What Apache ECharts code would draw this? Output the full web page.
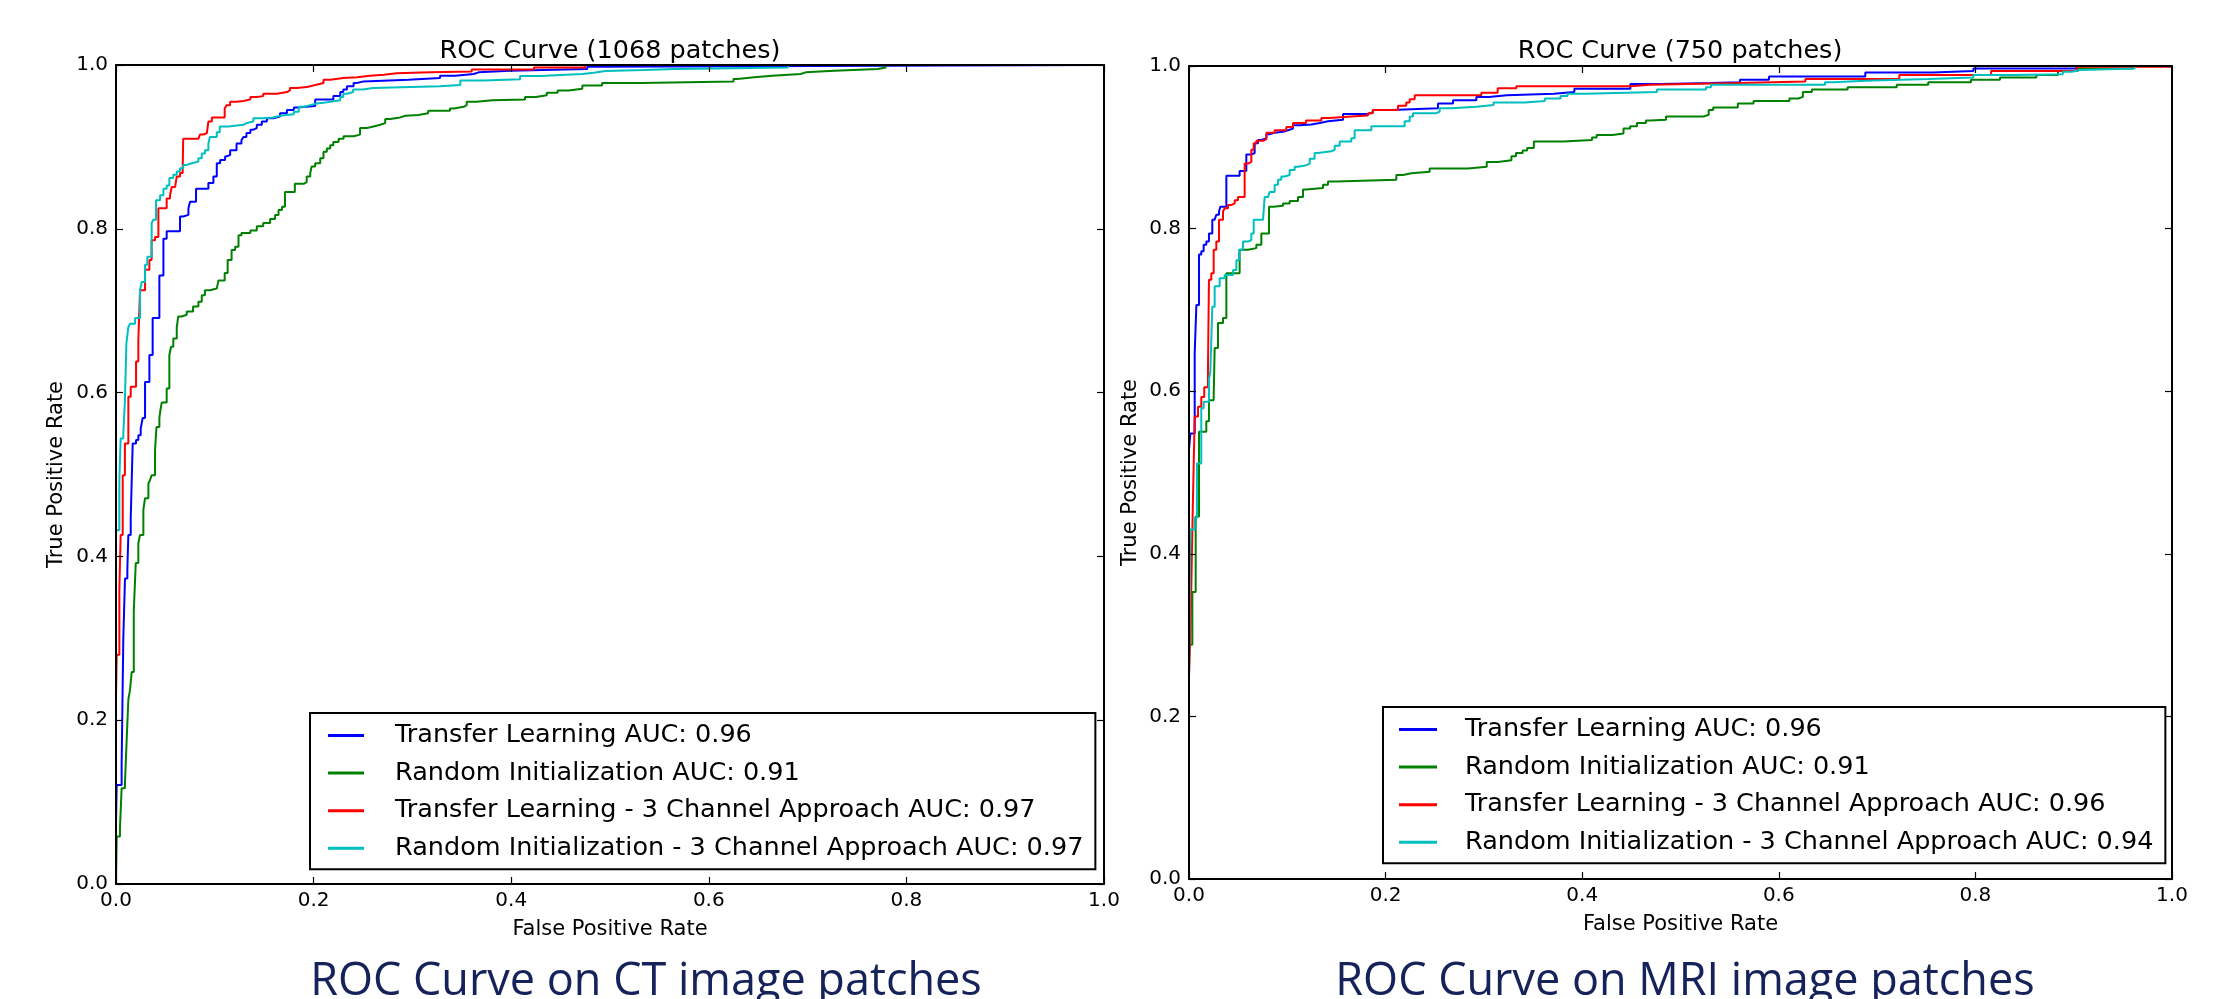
<!DOCTYPE html>
<html lang="en">
<head>
<meta charset="UTF-8">
<title>ROC Curve on CT / MRI image patches</title>
<script src="https://cdn.jsdelivr.net/npm/echarts@6/dist/echarts.min.js"></script>
<style>
html, body { margin: 0; padding: 0; background: #fff; }
#chart { width: 2218px; height: 999px; }
</style>
</head>
<body>
<div id="chart"></div>
<script>
// ROC points: [false positive rate, true positive rate]
var ctTransfer = [[0,0],[0,0.074],[0.0007,0.121],[0.0057,0.145],[0.0074,0.300],[0.0091,0.373],[0.0115,0.385],[0.0125,0.426],[0.0149,0.446],[0.0169,0.538],[0.0203,0.542],[0.0226,0.548],[0.025,0.556],[0.027,0.569],[0.0294,0.613],[0.0338,0.646],[0.0371,0.691],[0.0439,0.743],[0.048,0.788],[0.0513,0.797],[0.0648,0.815],[0.068,0.817],[0.0733,0.825],[0.075,0.833],[0.081,0.849],[0.0935,0.856],[0.0986,0.864],[0.102,0.880],[0.1054,0.884],[0.1104,0.888],[0.112,0.890],[0.1155,0.896],[0.122,0.904],[0.127,0.908],[0.129,0.912],[0.132,0.917],[0.136,0.921],[0.139,0.923],[0.1425,0.927],[0.1476,0.931],[0.1527,0.935],[0.159,0.937],[0.166,0.941],[0.173,0.945],[0.18,0.948],[0.183,0.950],[0.2016,0.958],[0.220,0.962],[0.227,0.967],[0.230,0.970],[0.2337,0.974],[0.2405,0.978],[0.2438,0.980],[0.2506,0.982],[0.296,0.984],[0.328,0.987],[0.3435,0.989],[0.362,0.991],[0.367,0.993],[0.399,0.995],[0.477,0.998],[0.487,1],[1,1]];
var ctRandom = [[0,0],[0.0007,0.058],[0.004,0.068],[0.0057,0.117],[0.009,0.121],[0.0108,0.176],[0.0125,0.225],[0.0142,0.237],[0.0159,0.259],[0.018,0.333],[0.020,0.392],[0.0226,0.416],[0.0243,0.426],[0.0277,0.457],[0.0294,0.471],[0.0328,0.489],[0.0344,0.493],[0.036,0.499],[0.0395,0.530],[0.041,0.558],[0.0439,0.569],[0.045,0.579],[0.0463,0.588],[0.0513,0.605],[0.054,0.646],[0.0557,0.656],[0.058,0.666],[0.0615,0.680],[0.063,0.693],[0.0665,0.695],[0.0716,0.699],[0.078,0.705],[0.0834,0.711],[0.0868,0.719],[0.090,0.725],[0.095,0.727],[0.102,0.729],[0.1037,0.737],[0.110,0.746],[0.113,0.762],[0.117,0.774],[0.1206,0.778],[0.124,0.792],[0.127,0.795],[0.136,0.798],[0.1425,0.803],[0.149,0.807],[0.156,0.812],[0.161,0.817],[0.1645,0.823],[0.168,0.827],[0.171,0.845],[0.181,0.855],[0.190,0.857],[0.193,0.864],[0.1966,0.868],[0.198,0.876],[0.2016,0.880],[0.2067,0.886],[0.210,0.894],[0.2134,0.898],[0.2168,0.902],[0.220,0.906],[0.2253,0.910],[0.2303,0.913],[0.2405,0.915],[0.247,0.923],[0.254,0.925],[0.2607,0.927],[0.2675,0.929],[0.2725,0.934],[0.2776,0.936],[0.2877,0.938],[0.293,0.939],[0.306,0.941],[0.316,0.944],[0.338,0.947],[0.342,0.949],[0.352,0.951],[0.355,0.955],[0.365,0.957],[0.381,0.958],[0.414,0.961],[0.425,0.963],[0.436,0.966],[0.447,0.969],[0.458,0.971],[0.472,0.975],[0.492,0.978],[0.531,0.980],[0.625,0.983],[0.629,0.985],[0.646,0.987],[0.664,0.989],[0.693,0.991],[0.698,0.993],[0.727,0.995],[0.771,0.997],[0.779,1],[1,1]];
var ctTransfer3 = [[0,0],[0,0.229],[0.0007,0.280],[0.0034,0.359],[0.0047,0.426],[0.0068,0.499],[0.009,0.538],[0.0125,0.595],[0.0149,0.607],[0.0203,0.638],[0.0226,0.664],[0.0243,0.725],[0.0294,0.750],[0.0338,0.762],[0.036,0.786],[0.0395,0.790],[0.0429,0.825],[0.0513,0.837],[0.0547,0.841],[0.0564,0.851],[0.0598,0.853],[0.0615,0.864],[0.0648,0.868],[0.0675,0.872],[0.068,0.910],[0.0834,0.912],[0.085,0.915],[0.0885,0.917],[0.092,0.919],[0.0935,0.931],[0.097,0.936],[0.110,0.947],[0.112,0.951],[0.1155,0.955],[0.122,0.956],[0.129,0.958],[0.136,0.961],[0.1425,0.962],[0.149,0.965],[0.163,0.967],[0.173,0.969],[0.176,0.972],[0.183,0.973],[0.193,0.974],[0.1966,0.976],[0.203,0.978],[0.210,0.982],[0.217,0.984],[0.230,0.985],[0.244,0.987],[0.257,0.988],[0.271,0.990],[0.284,0.991],[0.318,0.992],[0.360,0.9945],[0.423,0.997],[0.475,1],[1,1]];
var ctRandom3 = [[0,0],[0,0.432],[0.0034,0.493],[0.0047,0.544],[0.0074,0.550],[0.009,0.589],[0.0105,0.660],[0.0125,0.680],[0.0142,0.684],[0.0193,0.691],[0.0243,0.725],[0.026,0.735],[0.0294,0.756],[0.0317,0.766],[0.0361,0.807],[0.0378,0.811],[0.0405,0.835],[0.0446,0.841],[0.048,0.849],[0.0513,0.853],[0.054,0.862],[0.058,0.866],[0.0615,0.870],[0.0648,0.874],[0.068,0.878],[0.0716,0.880],[0.0767,0.882],[0.0834,0.886],[0.0868,0.892],[0.090,0.896],[0.0935,0.904],[0.095,0.912],[0.102,0.918],[0.105,0.925],[0.114,0.926],[0.122,0.927],[0.129,0.929],[0.132,0.931],[0.139,0.935],[0.149,0.936],[0.159,0.937],[0.163,0.938],[0.166,0.940],[0.180,0.943],[0.185,0.949],[0.190,0.951],[0.1966,0.953],[0.203,0.954],[0.210,0.955],[0.217,0.957],[0.227,0.961],[0.230,0.965],[0.234,0.967],[0.240,0.970],[0.250,0.972],[0.260,0.974],[0.3276,0.9756],[0.3485,0.981],[0.372,0.9825],[0.409,0.9866],[0.4296,0.9878],[0.450,0.989],[0.472,0.9906],[0.4836,0.9927],[0.4954,0.9939],[0.534,0.9951],[0.566,0.997],[0.680,1],[1,1]];

var mriTransfer = [[0,0],[0,0.528],[0.0014,0.548],[0.0058,0.647],[0.0075,0.706],[0.0102,0.768],[0.0125,0.772],[0.0149,0.780],[0.0176,0.784],[0.0203,0.794],[0.0237,0.811],[0.0261,0.813],[0.0278,0.817],[0.0305,0.821],[0.0319,0.827],[0.038,0.865],[0.0515,0.871],[0.0583,0.891],[0.0634,0.893],[0.0668,0.905],[0.0702,0.909],[0.0736,0.911],[0.0787,0.916],[0.082,0.918],[0.0871,0.919],[0.0956,0.921],[0.1007,0.923],[0.1058,0.927],[0.1126,0.928],[0.1244,0.930],[0.133,0.932],[0.1414,0.934],[0.1567,0.941],[0.182,0.943],[0.187,0.946],[0.206,0.948],[0.2533,0.954],[0.2686,0.958],[0.2923,0.962],[0.305,0.964],[0.3234,0.966],[0.3713,0.968],[0.392,0.972],[0.449,0.978],[0.481,0.979],[0.531,0.980],[0.5605,0.983],[0.590,0.987],[0.688,0.992],[0.757,0.994],[0.798,0.997],[0.903,1],[1,1]];
var mriRandom = [[0,0],[0,0.288],[0.0034,0.353],[0.0068,0.446],[0.0102,0.550],[0.0176,0.563],[0.0203,0.589],[0.0251,0.593],[0.0261,0.653],[0.0295,0.684],[0.0346,0.690],[0.038,0.745],[0.0515,0.774],[0.060,0.776],[0.0685,0.780],[0.0736,0.794],[0.0814,0.827],[0.0855,0.828],[0.0956,0.831],[0.1024,0.834],[0.1109,0.839],[0.116,0.848],[0.1194,0.850],[0.1363,0.854],[0.1414,0.858],[0.1499,0.860],[0.2109,0.866],[0.2177,0.868],[0.2262,0.870],[0.2448,0.874],[0.2838,0.876],[0.3029,0.882],[0.3142,0.884],[0.328,0.889],[0.3326,0.893],[0.3394,0.896],[0.344,0.899],[0.3508,0.907],[0.3805,0.909],[0.410,0.912],[0.4147,0.915],[0.4306,0.917],[0.442,0.923],[0.4488,0.926],[0.4557,0.930],[0.4648,0.933],[0.4694,0.934],[0.4853,0.938],[0.524,0.940],[0.5287,0.946],[0.5333,0.949],[0.5583,0.954],[0.5743,0.957],[0.6108,0.960],[0.620,0.962],[0.6245,0.968],[0.6336,0.971],[0.670,0.974],[0.720,0.977],[0.752,0.980],[0.7955,0.983],[0.825,0.986],[0.862,0.989],[0.884,0.994],[0.904,0.997],[0.960,1],[1,1]];
var mriTransfer3 = [[0,0],[0,0.249],[0.0014,0.300],[0.0025,0.370],[0.0034,0.429],[0.0046,0.500],[0.0058,0.569],[0.0092,0.581],[0.0125,0.593],[0.0155,0.605],[0.0193,0.628],[0.0203,0.737],[0.0227,0.745],[0.0251,0.774],[0.0278,0.784],[0.0305,0.811],[0.0346,0.821],[0.0363,0.825],[0.0397,0.829],[0.0431,0.831],[0.0465,0.835],[0.0498,0.839],[0.0566,0.880],[0.060,0.882],[0.0634,0.897],[0.0658,0.905],[0.0685,0.908],[0.0753,0.910],[0.0787,0.918],[0.0871,0.921],[0.099,0.925],[0.1058,0.930],[0.119,0.933],[0.1346,0.936],[0.143,0.938],[0.165,0.939],[0.182,0.942],[0.187,0.946],[0.2126,0.951],[0.221,0.955],[0.2245,0.959],[0.2296,0.964],[0.2974,0.967],[0.314,0.9725],[0.333,0.975],[0.449,0.977],[0.469,0.979],[0.558,0.981],[0.627,0.984],[0.7226,0.989],[0.816,0.994],[0.903,0.999],[1,1]];
var mriRandom3 = [[0,0],[0,0.249],[0.0014,0.430],[0.0058,0.444],[0.0081,0.511],[0.0125,0.579],[0.0149,0.587],[0.0203,0.615],[0.0217,0.624],[0.0237,0.704],[0.0261,0.729],[0.0312,0.739],[0.0363,0.743],[0.0448,0.749],[0.0482,0.761],[0.0509,0.774],[0.0549,0.784],[0.060,0.786],[0.0634,0.794],[0.0658,0.811],[0.0753,0.813],[0.077,0.839],[0.0804,0.841],[0.082,0.845],[0.0871,0.854],[0.0905,0.860],[0.0939,0.864],[0.0973,0.866],[0.1024,0.872],[0.1075,0.876],[0.1109,0.878],[0.1194,0.880],[0.1228,0.886],[0.1278,0.893],[0.1312,0.895],[0.1448,0.897],[0.1482,0.902],[0.1533,0.907],[0.1651,0.911],[0.1685,0.921],[0.1855,0.926],[0.2194,0.932],[0.2245,0.938],[0.2279,0.942],[0.2516,0.944],[0.255,0.948],[0.2669,0.950],[0.2923,0.952],[0.3098,0.955],[0.3416,0.957],[0.362,0.960],[0.378,0.963],[0.385,0.966],[0.403,0.968],[0.476,0.971],[0.526,0.974],[0.531,0.977],[0.647,0.980],[0.656,0.982],[0.688,0.984],[0.752,0.986],[0.798,0.989],[0.839,0.990],[0.889,0.993],[0.898,0.995],[0.907,0.997],[0.962,1],[1,1]];

var ctNames = ['Transfer Learning AUC: 0.96', 'Random Initialization AUC: 0.91',
    'Transfer Learning - 3 Channel Approach AUC: 0.97', 'Random Initialization - 3 Channel Approach AUC: 0.97'];
var mriNames = ['Transfer Learning AUC: 0.96', 'Random Initialization AUC: 0.91',
    'Transfer Learning - 3 Channel Approach AUC: 0.96', 'Random Initialization - 3 Channel Approach AUC: 0.94'];
var lineColors = ['#0000ff', '#008000', '#ff0000', '#00bfbf'];
var tickStep = 0.2;

var font = 'DejaVu Sans';
var chart = echarts.init(document.getElementById('chart'));

// one labelled axis plus a bare mirror axis on the opposite side (matplotlib frame);
// axes sit above the curves so lines running along the frame are hidden like in matplotlib
function axisPair(dim, gridIndex, name, nameGap) {
    var line = {onZero: false, lineStyle: {color: '#000', width: 2}};
    var tick = {inside: true, length: 7, lineStyle: {color: '#000', width: 1.2}};
    var main = {
        type: 'value', gridIndex: gridIndex, min: 0, max: 1, interval: tickStep, z: 5,
        position: dim === 'x' ? 'bottom' : 'left',
        name: name, nameLocation: 'middle', nameGap: nameGap,
        nameTextStyle: {fontFamily: font, fontSize: 21, color: '#000'},
        axisLine: line, axisTick: tick,
        axisLabel: {
            margin: dim === 'x' ? 7 : 8, fontFamily: font, fontSize: 20, color: '#000',
            showMinLabel: true, showMaxLabel: true,
            formatter: function (v) { return v.toFixed(1); }
        },
        splitLine: {show: false}
    };
    var mirror = {
        type: 'value', gridIndex: gridIndex, min: 0, max: 1, interval: tickStep, z: 5,
        position: dim === 'x' ? 'top' : 'right',
        axisLine: line, axisTick: tick,
        axisLabel: {show: false}, splitLine: {show: false}
    };
    return [main, mirror];
}

function rocSeries(points, name, color, axisIndex) {
    return {
        type: 'line', name: name, data: points,
        xAxisIndex: axisIndex, yAxisIndex: axisIndex,
        step: 'end', symbol: 'none', showSymbol: false,
        lineStyle: {color: color, width: 2}, itemStyle: {color: color},
        emphasis: {disabled: true}
    };
}

function legendBox(names, left, top, iconW, padLeft, textGap) {
    return {
        data: names, orient: 'vertical', left: left, top: top, z: 6,
        icon: 'rect', itemWidth: iconW, itemHeight: 3, itemGap: 11.6,
        padding: [9.5, 12, 8, padLeft],
        borderColor: '#000', borderWidth: 2, backgroundColor: '#fff',
        selectedMode: false,
        textStyle: {fontFamily: font, fontSize: 25.5, color: '#000', padding: [0, 0, 0, textGap]}
    };
}

var titleStyle = {fontFamily: font, fontSize: 25.5, fontWeight: 'normal', color: '#000'};
var captionStyle = {fontFamily: 'Open Sans', fontSize: 45, fontWeight: 'normal', color: '#16225a'};

chart.setOption({
    animation: false,
    backgroundColor: '#fff',
    title: [
        {text: 'ROC Curve (1068 patches)', left: 610, top: 38, textAlign: 'center', padding: 0, textStyle: titleStyle},
        {text: 'ROC Curve (750 patches)', left: 1680, top: 38, textAlign: 'center', padding: 0, textStyle: titleStyle},
        {text: 'ROC Curve on CT image patches', left: 646, top: 960, textAlign: 'center', padding: 0, textStyle: captionStyle},
        {text: 'ROC Curve on MRI image patches', left: 1685, top: 960, textAlign: 'center', padding: 0, textStyle: captionStyle}
    ],
    grid: [
        {left: 116, top: 65, width: 988, height: 819},
        {left: 1189, top: 66, width: 983, height: 813}
    ],
    xAxis: axisPair('x', 0, 'False Positive Rate', 35).concat(axisPair('x', 1, 'False Positive Rate', 35)),
    yAxis: axisPair('y', 0, 'True Positive Rate', 49).concat(axisPair('y', 1, 'True Positive Rate', 48)),
    legend: [
        legendBox(ctNames, 310, 713, 36, 18, 26),
        legendBox(mriNames, 1383, 707, 38, 16, 23)
    ],
    series: [
        rocSeries(ctTransfer, ctNames[0], lineColors[0], 0),
        rocSeries(ctRandom, ctNames[1], lineColors[1], 0),
        rocSeries(ctTransfer3, ctNames[2], lineColors[2], 0),
        rocSeries(ctRandom3, ctNames[3], lineColors[3], 0),
        rocSeries(mriTransfer, mriNames[0], lineColors[0], 2),
        rocSeries(mriRandom, mriNames[1], lineColors[1], 2),
        rocSeries(mriTransfer3, mriNames[2], lineColors[2], 2),
        rocSeries(mriRandom3, mriNames[3], lineColors[3], 2)
    ]
});
</script>
</body>
</html>
